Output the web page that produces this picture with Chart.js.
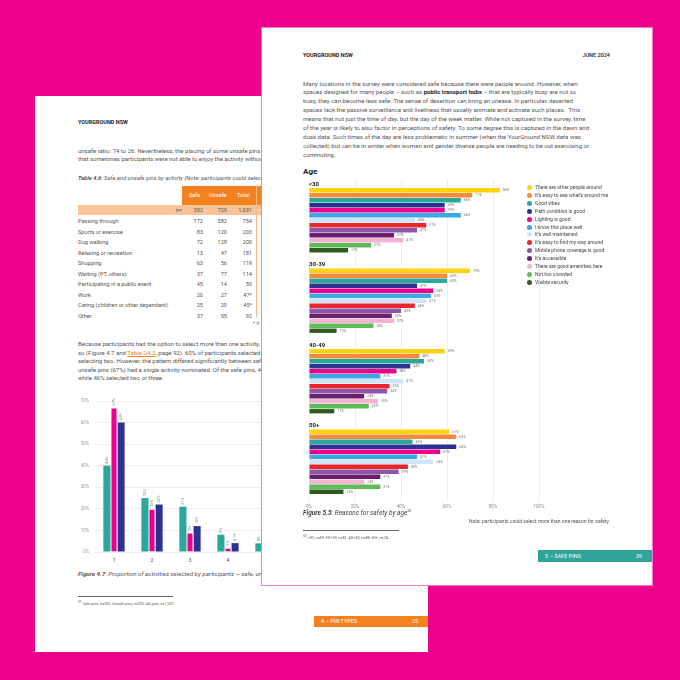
<!DOCTYPE html>
<html>
<head>
<meta charset="utf-8">
<script src="https://cdn.jsdelivr.net/npm/chart.js@4.4.0/dist/chart.umd.min.js"></script>
<style>
    body { margin: 0; width: 680px; height: 680px; background: #EC008C; position: relative; overflow: hidden; font-family: Roboto, sans-serif; }
    .page { position: absolute; background: #fff; overflow: hidden; box-sizing: border-box; }
    .abs { position: absolute; white-space: nowrap; }
    .hdr { font-size: 5.5px; font-weight: 700; color: #222; }
    .txt { font-size: 6px; color: #555; }
    .row { position: absolute; left: 43px; width: 260px; height: 10.5px; font-size: 5.6px; color: #555; line-height: 10.5px; }
    .row span { position: absolute; }
    .num { text-align: right; width: 30px; }
    .legend { position: absolute; font-size: 5px; color: #444; line-height: 7.9px; }
    .legend div { white-space: nowrap; }
    .legend i { display: inline-block; width: 5px; height: 5px; border-radius: 50%; margin-right: 3px; vertical-align: -1px; }
</style>
</head>
<body>

<!-- left page -->
<div class="page" style="left: 35px; top: 96px; width: 393px; height: 556px; z-index: 1;">
    <div class="abs hdr" style="left: 43px; top: 23px;">YOURGROUND NSW</div>
    <div class="abs txt" style="left: 43px; top: 51px; line-height: 8.3px;">
        unsafe ratio: 74 to 26. Nevertheless, the placing of some unsafe pins for some activities suggests<br>
        that sometimes participants were not able to enjoy the activity without feeling unsafe.
    </div>
    <div class="abs txt" style="left: 43px; top: 79px; font-style: italic; font-size: 5.8px;">
        <b>Table 4.6</b>: Safe and unsafe pins by activity (Note: participants could select more than one activity)
    </div>

    <div class="abs" style="left: 147px; top: 90px; width: 130px; height: 19px; background: #F58220;"></div>
    <div class="abs" style="left: 43px; top: 109px; width: 240px; height: 10px; background: #F9C49A;"></div>
    <div class="abs" style="left: 221px; top: 89px; width: 1px; height: 132px; background: #F8B88A;"></div>
    <div class="abs" style="left: 147px; top: 96px; width: 130px; font-size: 5.6px; color: #fff;">
        <span class="abs" style="left: 7px;">Safe</span>
        <span class="abs" style="left: 27px;">Unsafe</span>
        <span class="abs" style="left: 55px;">Total</span>
    </div>

    <div class="row" style="top: 109px; height: 10px; line-height: 10px;">
        <span class="num" style="left: 74px;">n=</span>
        <span class="num" style="left: 95px;">302</span>
        <span class="num" style="left: 119px;">729</span>
        <span class="num" style="left: 144px;">1,031</span>
    </div>
    <div class="row" style="top: 120px;"><span>Passing through</span><span class="num" style="left: 95px;">172</span><span class="num" style="left: 119px;">582</span><span class="num" style="left: 144px;">754</span></div>
    <div class="row" style="top: 130.5px;"><span>Sports or exercise</span><span class="num" style="left: 95px;">83</span><span class="num" style="left: 119px;">120</span><span class="num" style="left: 144px;">203</span></div>
    <div class="row" style="top: 141px;"><span>Dog walking</span><span class="num" style="left: 95px;">72</span><span class="num" style="left: 119px;">128</span><span class="num" style="left: 144px;">200</span></div>
    <div class="row" style="top: 151.5px;"><span>Relaxing or recreation</span><span class="num" style="left: 95px;">13</span><span class="num" style="left: 119px;">47</span><span class="num" style="left: 144px;">181</span></div>
    <div class="row" style="top: 162px;"><span>Shopping</span><span class="num" style="left: 95px;">63</span><span class="num" style="left: 119px;">56</span><span class="num" style="left: 144px;">119</span></div>
    <div class="row" style="top: 172.5px;"><span>Waiting (PT, others)</span><span class="num" style="left: 95px;">37</span><span class="num" style="left: 119px;">77</span><span class="num" style="left: 144px;">114</span></div>
    <div class="row" style="top: 183px;"><span>Participating in a public event</span><span class="num" style="left: 95px;">45</span><span class="num" style="left: 119px;">14</span><span class="num" style="left: 144px;">59</span></div>
    <div class="row" style="top: 193.5px;"><span>Work</span><span class="num" style="left: 95px;">20</span><span class="num" style="left: 119px;">27</span><span class="num" style="left: 144px;">47*</span></div>
    <div class="row" style="top: 204px;"><span>Caring (children or other dependant)</span><span class="num" style="left: 95px;">25</span><span class="num" style="left: 119px;">20</span><span class="num" style="left: 144px;">45*</span></div>
    <div class="row" style="top: 214.5px;"><span>Other</span><span class="num" style="left: 95px;">37</span><span class="num" style="left: 119px;">55</span><span class="num" style="left: 144px;">92</span></div>
    <div class="abs" style="left: 218px; top: 224px; font-size: 5px; color: #555;">* n</div>

    <div class="abs txt" style="left: 43px; top: 244px; line-height: 8.5px;">
        Because participants had the option to select more than one activity, many of them did<br>
        so (Figure 4.7 and <span style="color: #F58220; text-decoration: underline;">Table D4.2</span>, page 92). 60% of participants selected a single activity, and 22%<br>
        selecting two. However, the pattern differed significantly between safe and unsafe pins. Most<br>
        unsafe pins (67%) had a single activity nominated. Of the safe pins, 40% nominated one activity<br>
        while 46% selected two or three.
    </div>

    <canvas id="activity-chart" width="215" height="179" class="abs" style="left: 35px; top: 291px;"></canvas>

    <div class="abs txt" style="left: 43px; top: 474px; font-style: italic; font-size: 6.2px;">
        <b>Figure 4.7</b>: Proportion of activities selected by participants – safe, unsafe and all pins<sup style="font-size: 3.5px;">37</sup>
    </div>
    <div class="abs" style="left: 43px; top: 500px; width: 95px; height: 1px; background: #666;"></div>
    <div class="abs" style="left: 43px; top: 503.5px; font-size: 3.8px; color: #555;"><sup>37</sup> Safe pins, n=302; Unsafe pins, n=702; All pins, n=1,031.</div>

    <div class="abs" style="left: 279px; top: 520px; width: 114px; height: 11px; background: #F58220; color: #fff; font-size: 5.5px; line-height: 11px;">
        <span class="abs" style="left: 7px;">4 – PIN TYPES</span>
        <span class="abs" style="left: 98px;">25</span>
    </div>
</div>

<!-- right page -->
<div class="page" style="left: 261px; top: 27px; width: 392px; height: 559px; z-index: 2; border: 1px solid #F27CC9;">
    <div class="abs hdr" style="left: 41px; top: 24px;">YOURGROUND NSW</div>
    <div class="abs hdr" style="right: 42px; top: 24px; font-weight: 500;">JUNE 2024</div>
    <div class="abs txt" style="left: 41px; top: 51.5px; line-height: 8.9px; font-size: 6.1px;">
        Many locations in the survey were considered safe because there were people around. However, when<br>
        spaces designed for many people – such as <b style="color: #222;">public transport hubs</b> – that are typically busy are not so<br>
        busy, they can become less safe. The sense of desertion can bring an unease. In particular, deserted<br>
        spaces lack the passive surveillance and liveliness that usually animate and activate such places.&nbsp; This<br>
        means that not just the time of day, but the day of the week matter. While not captured in the survey, time<br>
        of the year is likely to also factor in perceptions of safety. To some degree this is captured in the dawn and<br>
        dusk data. Such times of the day are less problematic in summer (when the YourGround NSW data was<br>
        collected) but can be in winter when women and gender diverse people are needing to be out exercising or<br>
        commuting.
    </div>
    <div class="abs" style="left: 41px; top: 139px; font-size: 8px; font-weight: 700; color: #222;">Age</div>

    <canvas id="age-chart" width="260" height="338" class="abs" style="left: 29px; top: 145px;"></canvas>
    <div id="age-legend" class="legend" style="left: 265px; top: 156px;"></div>

    <div class="abs txt" style="left: 41px; top: 481px; font-style: italic; font-size: 6.5px; color: #444;">
        <b>Figure 5.5</b>: Reasons for safety by age<sup style="font-size: 3.5px;">50</sup>
    </div>
    <div class="abs" style="right: 42px; top: 490px; font-size: 5px; color: #555;">Note: participants could select more than one reason for safety.</div>
    <div class="abs" style="left: 41px; top: 502px; width: 96px; height: 1px; background: #666;"></div>
    <div class="abs" style="left: 41px; top: 506px; font-size: 3.8px; color: #555;"><sup>50</sup> &lt;30, n=59; 30–39, n=81; 40–49, n=88; 50+, n=74.</div>

    <div class="abs" style="left: 276px; top: 522px; width: 120px; height: 12px; background: #2FA59A; color: #fff; font-size: 5.5px; line-height: 12px;">
        <span class="abs" style="left: 7px;">5 – SAFE PINS</span>
        <span class="abs" style="left: 98px;">39</span>
    </div>
</div>

<script>
// Figure 4.7 - number of activities selected
const activityCounts = ['1', '2', '3', '4', '5'];
const safePins = [40, 25, 21, 8, 4];
const unsafePins = [67, 20, 9, 2, 1];
const allPins = [60, 22, 12, 4.1, 2];

// Figure 5.5 - reasons for safety by age
const ageGroups = ['<30', '30-39', '40-49', '50+'];
const reasons = [
    'There are other people around',
    'It\u2019s easy to see what\u2019s around me',
    'Good vibes',
    'Path condition is good',
    'Lighting is good',
    'I know this place well',
    'It\u2019s well maintained',
    'It\u2019s easy to find my way around',
    'Mobile phone coverage is good',
    'It\u2019s accessible',
    'There are good amenities here',
    'Not too crowded',
    'Visible security'
];
const reasonColors = ['#FDD20E', '#F58A3C', '#2BA79C', '#2E3192', '#EC008C', '#3AA8E0',
    '#CFE5F7', '#E8262B', '#8E54A8', '#6A1E6E', '#F3B3D3', '#5DBB5A', '#2F5A1E'];
const under30 = [83, 71, 66, 59, 59, 66, 46, 51, 47, 37, 41, 27, 17];
const age30to39 = [70, 60, 60, 47, 54, 53, 51, 46, 40, 36, 37, 28, 12];
const age40to49 = [59, 48, 50, 44, 38, 31, 41, 35, 34, 24, 30, 26, 11];
const age50plus = [61, 64, 45, 64, 57, 47, 54, 43, 39, 31, 24, 31, 15];
const xTicks = [0, 20, 40, 60, 80, 100];

Chart.defaults.font.family = 'Roboto, sans-serif';
Chart.defaults.animation = false;

// small value labels next to the bars
const valueLabels = {
    id: 'valueLabels',
    afterDatasetsDraw(chart, args, opts) {
        const ctx = chart.ctx;
        ctx.save();
        ctx.fillStyle = opts.color;
        ctx.font = opts.size + 'px Roboto';
        chart.data.datasets.forEach((ds, i) => {
            chart.getDatasetMeta(i).data.forEach((bar, j) => {
                const text = ds.data[j] + '%';
                if (opts.vertical) {
                    ctx.save();
                    ctx.translate(bar.x, bar.y - 2);
                    ctx.rotate(-Math.PI / 2);
                    ctx.textAlign = 'left';
                    ctx.textBaseline = 'middle';
                    ctx.fillText(text, 0, 0);
                    ctx.restore();
                } else {
                    ctx.textAlign = 'left';
                    ctx.textBaseline = 'middle';
                    ctx.fillText(text, bar.x + 3, bar.y);
                }
            });
        });
        ctx.restore();
    }
};

new Chart(document.getElementById('activity-chart'), {
    type: 'bar',
    data: {
        labels: activityCounts,
        datasets: [
            { label: 'Safe pins', data: safePins, backgroundColor: '#2BA79C' },
            { label: 'Unsafe pins', data: unsafePins, backgroundColor: '#EC008C', borderColor: '#fff', borderWidth: 1 },
            { label: 'All pins', data: allPins, backgroundColor: '#2E3192' }
        ]
    },
    options: {
        responsive: false,
        devicePixelRatio: 1,
        layout: { padding: { top: 14, right: 0, left: 0, bottom: 0 } },
        datasets: { bar: { categoryPercentage: 0.56, barPercentage: 1 } },
        plugins: {
            legend: { display: false },
            tooltip: { enabled: false },
            valueLabels: { vertical: true, size: 3.8, color: '#888' }
        },
        scales: {
            x: {
                grid: { display: false, drawTicks: false },
                border: { display: false },
                ticks: { color: '#555', font: { size: 5.5 }, padding: 5, maxRotation: 0, minRotation: 0 },
                afterFit: (s) => { s.height = 14; }
            },
            y: {
                min: 0,
                max: 70,
                grid: { color: '#eeeeee', drawTicks: false },
                border: { display: false },
                ticks: { stepSize: 10, color: '#999', font: { size: 4.5 }, padding: 6, callback: (v) => v + '%' },
                afterFit: (s) => { s.width = 25; }
            }
        }
    },
    plugins: [valueLabels]
});

// age group titles above each bar block
const groupTitles = {
    id: 'groupTitles',
    afterDatasetsDraw(chart) {
        const ctx = chart.ctx;
        const y = chart.scales.y;
        const band = y.height / ageGroups.length;
        ctx.save();
        ctx.fillStyle = '#222';
        ctx.font = 'bold 6px Roboto';
        ctx.textBaseline = 'middle';
        ageGroups.forEach((g, i) => {
            const top = y.getPixelForValue(i) - band * 0.807 / 2;
            ctx.fillText(g, chart.chartArea.left, top - 3.5);
        });
        ctx.restore();
    }
};

const ageData = [under30, age30to39, age40to49, age50plus];

new Chart(document.getElementById('age-chart'), {
    type: 'bar',
    data: {
        labels: ageGroups,
        datasets: reasons.map((r, i) => ({
            label: r,
            data: ageData.map(a => a[i]),
            backgroundColor: reasonColors[i]
        }))
    },
    options: {
        indexAxis: 'y',
        responsive: false,
        devicePixelRatio: 1,
        layout: { padding: { top: 7, left: 18, right: 12, bottom: 0 } },
        datasets: { bar: { categoryPercentage: 0.807, barPercentage: 0.86 } },
        plugins: {
            legend: { display: false },
            tooltip: { enabled: false },
            valueLabels: { vertical: false, size: 3.5, color: '#777' }
        },
        scales: {
            x: {
                min: 0,
                max: 100,
                afterBuildTicks: (s) => { s.ticks = xTicks.map(v => ({ value: v })); },
                grid: { color: '#eeeeee', drawTicks: false },
                border: { display: false },
                ticks: { color: '#888', font: { size: 4.5 }, padding: 2, callback: (v) => v + '%' },
                afterFit: (s) => { s.height = 9; }
            },
            y: { display: false }
        }
    },
    plugins: [valueLabels, groupTitles]
});

const legend = document.getElementById('age-legend');
legend.innerHTML = reasons.map((r, i) =>
    `<div><i style="background: ${reasonColors[i]};"></i>${r}</div>`).join('');
</script>
</body>
</html>
